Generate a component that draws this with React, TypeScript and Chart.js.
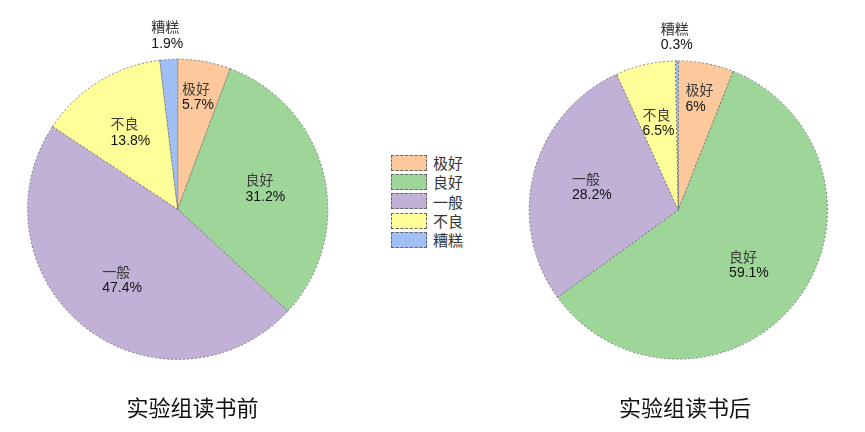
import React, { useEffect, useRef } from "react";
import { Chart, registerables } from "chart.js";

Chart.register(...registerables);

const categories = ["极好", "良好", "一般", "不良", "糟糕"];
const beforeValues = [5.7, 31.2, 47.4, 13.8, 1.9];
const afterValues = [6, 59.1, 28.2, 6.5, 0.3];
const beforeTitle = "实验组读书前";
const afterTitle = "实验组读书后";

const colors = ["#FDC99C", "#9ED69A", "#C1B1D7", "#FFFF99", "#A0BFF5"];
const labelRadius = [0.76, 0.6, 0.6, 0.6, 1.16];

const labelPlugin = {
  id: "sliceLabels",
  afterDatasetsDraw(chart: any) {
    const ctx = chart.ctx as CanvasRenderingContext2D;
    const meta = chart.getDatasetMeta(0);
    const data = chart.data.datasets[0].data as number[];
    const labels = chart.data.labels as string[];
    ctx.save();
    meta.data.forEach((arc: any, i: number) => {
      const p = arc.getProps(["x", "y", "startAngle", "endAngle", "outerRadius"], true);
      const mid = (p.startAngle + p.endAngle) / 2;
      const r = p.outerRadius * labelRadius[i];
      const cx = p.x + Math.cos(mid) * r;
      const cy = p.y + Math.sin(mid) * r;
      const name = labels[i];
      const pct = String(data[i]) + "%";
      const nameFont = "14px 'Noto Sans CJK SC'";
      const pctFont = "14px 'Liberation Sans', Arial, sans-serif";
      ctx.font = nameFont;
      const wName = ctx.measureText(name).width;
      ctx.font = pctFont;
      const wPct = ctx.measureText(pct).width;
      const left = cx - Math.max(wName, wPct) / 2;
      ctx.textAlign = "left";
      ctx.textBaseline = "middle";
      ctx.font = nameFont;
      ctx.fillStyle = "#3a3a3a";
      ctx.fillText(name, left, cy - 8.5);
      ctx.font = pctFont;
      ctx.fillStyle = "#111";
      ctx.fillText(pct, left, cy + 8.5);
    });
    ctx.restore();
  },
};

function makeConfig(values: number[], padding: any): any {
  return {
    type: "pie",
    data: {
      labels: categories,
      datasets: [
        {
          data: values,
          backgroundColor: colors,
          borderColor: "#666",
          borderWidth: 0.8,
          borderDash: [2, 2],
          borderJoinStyle: "miter",
        },
      ],
    },
    options: {
      responsive: false,
      animation: false,
      maintainAspectRatio: false,
      devicePixelRatio: 1,
      layout: { padding },
      plugins: {
        legend: { display: false },
        tooltip: { enabled: false },
        title: { display: false },
      },
    },
    plugins: [labelPlugin],
  };
}

export default function App() {
  const leftRef = useRef<HTMLCanvasElement>(null);
  const rightRef = useRef<HTMLCanvasElement>(null);

  useEffect(() => {
    document.body.style.margin = "0";
    const c1 = new Chart(
      leftRef.current!,
      makeConfig(beforeValues, { left: 27.2, top: 58.8, right: 51.8, bottom: 72.2 })
    );
    const c2 = new Chart(
      rightRef.current!,
      makeConfig(afterValues, { left: 48.8, top: 60.5, right: 37.2, bottom: 72.5 })
    );
    return () => {
      c1.destroy();
      c2.destroy();
    };
  }, []);

  const titleStyle: React.CSSProperties = {
    position: "absolute",
    top: 392,
    width: 240,
    textAlign: "center",
    fontFamily: "'Noto Sans CJK SC'",
    fontSize: 22,
    lineHeight: "28px",
    color: "#111",
  };

  return (
    <div style={{ position: "relative", width: 865, height: 432, background: "#fff", overflow: "hidden" }}>
      <canvas ref={leftRef} width={380} height={432} style={{ position: "absolute", left: 0, top: 0, width: 380, height: 432 }} />
      <canvas ref={rightRef} width={385} height={432} style={{ position: "absolute", left: 480, top: 0, width: 385, height: 432 }} />
      <div style={{ ...titleStyle, left: 192.5 - 120 }}>{beforeTitle}</div>
      <div style={{ ...titleStyle, left: 685 - 120 }}>{afterTitle}</div>
      <div style={{ position: "absolute", left: 391, top: 153 }}>
        {categories.map((c, i) => (
          <div key={c} style={{ display: "flex", alignItems: "center", height: 19.3 }}>
            <div
              style={{
                width: 34,
                height: 14,
                background: colors[i],
                border: "1px dashed #666",
              }}
            />
            <span
              style={{
                marginLeft: 6,
                fontFamily: "'Noto Sans CJK SC'",
                fontSize: 15,
                lineHeight: "19px",
                color: "#333",
              }}
            >
              {c}
            </span>
          </div>
        ))}
      </div>
    </div>
  );
}
